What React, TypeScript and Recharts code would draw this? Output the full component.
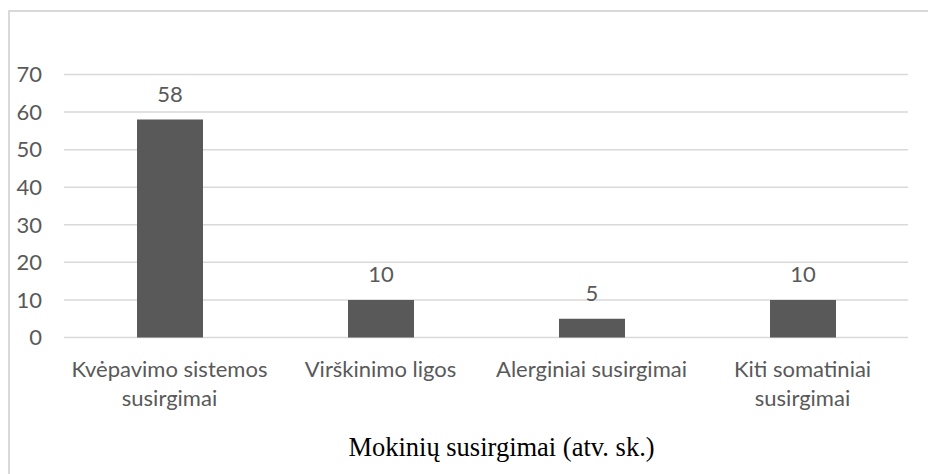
import { BarChart, Bar, XAxis, YAxis, CartesianGrid, LabelList } from "recharts";

const categories = [
    "Kvėpavimo sistemos susirgimai",
    "Virškinimo ligos",
    "Alerginiai susirgimai",
    "Kiti somatiniai susirgimai",
];
const values = [58, 10, 5, 10];
const yTicks = [0, 10, 20, 30, 40, 50, 60, 70];
const title = "Mokinių susirgimai (atv. sk.)";

const data = categories.map((name, i) => ({ name, value: values[i] }));

const textColor = "#595959";
const font = "Lato, 'Open Sans', sans-serif";
const labelSize = 22;

// greedy word wrap to the width of one category
const wrapWords = (label: string, maxWidth: number) => {
    const ctx = document.createElement("canvas").getContext("2d");
    if (!ctx) return [label];
    ctx.font = `${labelSize}px ${font}`;
    const lines: string[] = [];
    let line = "";
    for (const word of label.split(" ")) {
        const next = line ? line + " " + word : word;
        if (line && ctx.measureText(next).width > maxWidth) {
            lines.push(line);
            line = word;
        } else {
            line = next;
        }
    }
    if (line) lines.push(line);
    return lines;
};

const CategoryTick = (props: any) => {
    const { x, y, payload } = props;
    const lines = wrapWords(payload.value, 205);
    return (
        <text
            x={x}
            y={y + 39}
            textAnchor="middle"
            fill={textColor}
            style={{ fontFamily: font, fontSize: labelSize }}
        >
            {lines.map((l, i) => (
                <tspan key={i} x={x} dy={i === 0 ? 0 : 29}>
                    {l}
                </tspan>
            ))}
        </text>
    );
};

const App = () => {
    return (
        <div style={{ position: "absolute", left: 0, top: 0, width: 928, height: 474, background: "#fff" }}>
            <div
                style={{
                    position: "absolute",
                    left: 8,
                    top: 10,
                    right: 0,
                    bottom: 0,
                    borderLeft: "2px solid #d9d9d9",
                    borderTop: "2px solid #d9d9d9",
                }}
            />
            <div style={{ position: "absolute", left: 0, top: 0 }}>
                <BarChart
                    width={928}
                    height={474}
                    data={data}
                    margin={{ top: 74.5, right: 20, bottom: 76.5, left: 24 }}
                    barCategoryGap={0}
                >
                    <CartesianGrid vertical={false} stroke="#d9d9d9" strokeWidth={1.5} />
                    <XAxis
                        dataKey="name"
                        axisLine={false}
                        tickLine={false}
                        tickSize={0}
                        tickMargin={0}
                        height={60}
                        interval={0}
                        tick={<CategoryTick />}
                    />
                    <YAxis
                        domain={[0, 70]}
                        ticks={yTicks}
                        width={40}
                        axisLine={false}
                        tickLine={false}
                        tickSize={0}
                        tickMargin={22}
                        tick={{ fill: textColor, fontSize: labelSize, fontFamily: font }}
                    />
                    <Bar dataKey="value" fill="#595959" barSize={66} isAnimationActive={false}>
                        <LabelList
                            dataKey="value"
                            position="top"
                            offset={17.5}
                            fill={textColor}
                            style={{ fontSize: labelSize, fontFamily: font }}
                        />
                    </Bar>
                </BarChart>
            </div>
            <div
                style={{
                    position: "absolute",
                    left: 0,
                    top: 434,
                    width: 1003,
                    textAlign: "center",
                    fontFamily: "'Liberation Serif', 'Times New Roman', serif",
                    fontSize: 26.5,
                    lineHeight: "26px",
                    color: "#000",
                }}
            >
                {title}
            </div>
        </div>
    );
};

export default App;
